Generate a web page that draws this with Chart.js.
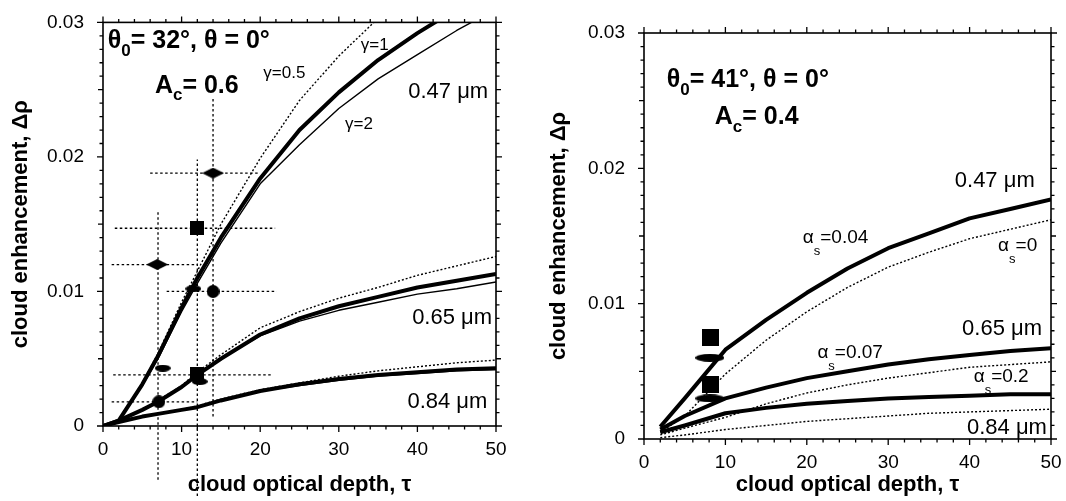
<!DOCTYPE html>
<html>
<head>
<meta charset="utf-8">
<script src="https://cdn.jsdelivr.net/npm/chart.js@4.4.1/dist/chart.umd.min.js"></script>
<style>
  body { margin: 0; background: #fff; width: 1066px; height: 501px; overflow: hidden; position: relative; }
  #cl { position: absolute; left: 0; top: 0; }
  #cr { position: absolute; left: 530px; top: 0; }
</style>
</head>
<body>
<canvas id="cl" width="530" height="501"></canvas>
<canvas id="cr" width="536" height="501"></canvas>
<script>
// ---- left panel (theta0 = 32, Ac = 0.6) ----
const tauL = [0, 2, 5, 7, 10, 12, 15, 20, 25, 30, 35, 40, 45, 50];
const l47g1 = [0, 0.0004, 0.0031, 0.0052, 0.0088, 0.011, 0.014, 0.0184, 0.022, 0.0248, 0.0272, 0.0292, 0.031, 0.0325];
const l47g2 = [0, 0.0004, 0.003, 0.005, 0.0085, 0.0106, 0.0136, 0.018, 0.0209, 0.0236, 0.0258, 0.0276, 0.0294, 0.031];
const l47g05 = [0, 0.0004, 0.0032, 0.0054, 0.0092, 0.0115, 0.015, 0.0199, 0.0242, 0.0275, 0.0303, 0.033, 0.035, 0.037];
const l65g1 = [0, 0.0004, 0.0012, 0.0018, 0.0029, 0.0038, 0.005, 0.0068, 0.008, 0.0089, 0.0096, 0.0103, 0.0108, 0.0113];
const l65g2 = [0, 0.0004, 0.0012, 0.0018, 0.0029, 0.0038, 0.005, 0.0067, 0.0078, 0.0086, 0.0092, 0.0098, 0.0102, 0.0107];
const l65g05 = [0, 0.0004, 0.0012, 0.0019, 0.003, 0.004, 0.0053, 0.0073, 0.0085, 0.0095, 0.0103, 0.0112, 0.0119, 0.0126];
const l84g1 = [0, 0.0003, 0.0007, 0.0009, 0.0012, 0.0014, 0.0019, 0.0026, 0.0031, 0.0035, 0.0038, 0.004, 0.0042, 0.0043];
const l84g2 = [0, 0.0003, 0.0007, 0.0009, 0.0012, 0.0014, 0.0019, 0.0026, 0.003, 0.0034, 0.0037, 0.0039, 0.0041, 0.0042];
const l84g05 = [0, 0.0003, 0.0007, 0.0009, 0.0012, 0.0015, 0.002, 0.0027, 0.0032, 0.0037, 0.0041, 0.0044, 0.0047, 0.0049];

// observations, left panel
const diamondTau = [14.0, 6.9];
const diamondRho = [0.0188, 0.0120];
const squareTauL = [12.0, 12.0];
const squareRhoL = [0.0147, 0.0039];
const circleTau = [14.0, 7.1];
const circleRho = [0.0100, 0.0018];
const ellipseTauL = [11.5, 7.6, 12.3];
const ellipseRhoL = [0.0102, 0.0043, 0.0033];
// horizontal error bars
const hbarRho = [0.0188, 0.0147, 0.0120, 0.0100, 0.0038, 0.0018];
const hbarLo = [6.0, 1.5, 1.1, 8.1, 1.3, 1.1];
const hbarHi = [20.0, 21.9, 12.0, 22.1, 21.6, 12.0];
// vertical error bars
const vbarTau = [7.0, 12.0, 14.0];
const vbarLo = [-0.004, -0.0052, 0.0007];
const vbarHi = [0.016, 0.0198, 0.0245];

// ---- right panel (theta0 = 41, Ac = 0.4) ----
const tauR = [2, 5, 10, 15, 20, 25, 30, 35, 40, 45, 50];
const r47a004 = [0.0009, 0.003, 0.0066, 0.0088, 0.0108, 0.0126, 0.0141, 0.0152, 0.0163, 0.017, 0.0177];
const r47a0 = [0.0005, 0.0017, 0.0048, 0.0073, 0.0094, 0.0112, 0.0127, 0.0138, 0.0148, 0.0155, 0.0162];
const r65a007 = [0.0007, 0.0017, 0.003, 0.0038, 0.0045, 0.005, 0.0055, 0.0059, 0.0062, 0.0065, 0.0067];
const r65a02 = [0.0003, 0.0008, 0.0016, 0.0026, 0.0034, 0.004, 0.0045, 0.0049, 0.0053, 0.0055, 0.0057];
const r84thick = [0.0005, 0.001, 0.0019, 0.0023, 0.0026, 0.0028, 0.003, 0.0031, 0.0032, 0.0033, 0.0033];
const r84dot = [0.0001, 0.0003, 0.0007, 0.001, 0.0013, 0.0015, 0.0017, 0.0019, 0.002, 0.0021, 0.0022];
const squareTauR = [8.2, 8.2];
const squareRhoR = [0.0075, 0.0040];
const ellipseTauR = [8.1, 8.1];
const ellipseRhoR = [0.0060, 0.0030];

const xTicks = [0, 10, 20, 30, 40, 50];
const yTicks = [0, 0.01, 0.02, 0.03];

Chart.defaults.font.family = "'Liberation Sans', Arial, sans-serif";
Chart.defaults.color = '#000';

function pts(xs, ys) {
  return xs.map((x, i) => ({ x: x, y: ys[i] }));
}

function shapeImg(kind, w, h) {
  const c = document.createElement('canvas');
  c.width = w; c.height = h;
  const g = c.getContext('2d');
  g.fillStyle = '#000';
  g.beginPath();
  if (kind === 'diamond') {
    g.moveTo(0, h / 2); g.lineTo(w / 2, 0); g.lineTo(w, h / 2); g.lineTo(w / 2, h); g.closePath();
  } else if (kind === 'ellipse') {
    g.ellipse(w / 2, h / 2, w / 2, h / 2, 0, 0, Math.PI * 2);
  } else if (kind === 'circle') {
    g.arc(w / 2, h / 2, w / 2, 0, Math.PI * 2);
  } else {
    g.rect(0, 0, w, h);
  }
  g.fill();
  return c;
}

function curve(xs, ys, kind) {
  const ds = {
    data: pts(xs, ys), showLine: true, pointRadius: 0, borderColor: '#000',
    tension: 0, borderJoinStyle: 'round', order: 5
  };
  if (kind === 'thick') ds.borderWidth = 4;
  if (kind === 'thin') ds.borderWidth = 1.4;
  if (kind === 'dot') { ds.borderWidth = 1.4; ds.borderDash = [2, 2]; }
  return ds;
}

function markers(xs, ys, img) {
  return { data: pts(xs, ys), showLine: false, pointStyle: img, pointRadius: 5, order: 0 };
}

function bar(xs, ys) {
  return {
    data: pts(xs, ys), showLine: true, pointRadius: 0, borderColor: '#000',
    borderWidth: 1.3, borderDash: [2.5, 2.5], clip: false, order: 3
  };
}

const frame = {
  id: 'frame',
  afterDatasetsDraw(chart) {
    const { ctx, chartArea: a, scales: { x, y } } = chart;
    ctx.save();
    ctx.strokeStyle = '#000';
    ctx.lineWidth = 1.6;
    ctx.strokeRect(a.left, a.top, a.right - a.left, a.bottom - a.top);
    ctx.lineWidth = 1.3;
    ctx.beginPath();
    for (let v = 0; v <= 50; v += 2) {
      const px = x.getPixelForValue(v);
      const len = v % 10 === 0 ? 6 : 3.5;
      ctx.moveTo(px, a.bottom); ctx.lineTo(px, a.bottom + len);
      ctx.moveTo(px, a.top); ctx.lineTo(px, a.top - len);
    }
    for (let i = 0; i <= 30; i++) {
      const py = y.getPixelForValue(i / 1000);
      const len = i % 10 === 0 ? 6 : (i % 5 === 0 ? 5 : 3.5);
      ctx.moveTo(a.left, py); ctx.lineTo(a.left - len, py);
      ctx.moveTo(a.right, py); ctx.lineTo(a.right + len, py);
    }
    ctx.stroke();
    ctx.restore();
  }
};

const notes = {
  id: 'notes',
  afterDraw(chart, args, opts) {
    const { ctx, scales: { x, y } } = chart;
    ctx.save();
    ctx.fillStyle = '#000';
    ctx.textBaseline = 'middle';
    ctx.textAlign = 'left';
    (opts.items || []).forEach(it => {
      const fam = "'Liberation Sans', Arial, sans-serif";
      const w = it.bold ? 'bold ' : '';
      const mainF = w + it.size + 'px ' + fam;
      const subF = w + Math.round(it.size * 0.66) + 'px ' + fam;
      let total = 0;
      it.parts.forEach(p => { ctx.font = p[1] ? subF : mainF; total += ctx.measureText(p[0]).width; });
      let px = x.getPixelForValue(it.x);
      const py = y.getPixelForValue(it.y);
      if (it.align === 'right') px -= total;
      it.parts.forEach(p => {
        ctx.font = p[1] ? subF : mainF;
        ctx.fillText(p[0], px, p[1] ? py + it.drop : py);
        px += ctx.measureText(p[0]).width;
      });
    });
    ctx.restore();
  }
};

function makeOptions(cfg) {
  return {
    responsive: false,
    animation: false,
    layout: { padding: cfg.padding },
    plugins: { legend: { display: false }, tooltip: { enabled: false }, notes: { items: cfg.notes } },
    scales: {
      x: {
        type: 'linear', min: 0, max: 50,
        afterBuildTicks: s => { s.ticks = xTicks.map(v => ({ value: v })); },
        ticks: { font: { size: 19 }, color: '#000', padding: 4, maxRotation: 0 },
        grid: { display: false }, border: { display: false },
        title: { display: true, text: 'cloud optical depth, τ', font: { size: 22, weight: 'bold' }, padding: { top: 0, bottom: 3 } },
        afterFit: s => { s.height = cfg.xh; }
      },
      y: {
        type: 'linear', min: 0, max: 0.03,
        afterBuildTicks: s => { s.ticks = yTicks.map(v => ({ value: v })); },
        ticks: { font: { size: 19 }, color: '#000', padding: 11, callback: v => v === 0 ? '0' : v.toFixed(2) },
        grid: { display: false }, border: { display: false },
        title: { display: true, text: 'cloud enhancement, Δρ', font: { size: 22, weight: 'bold' }, padding: { top: cfg.ytp, bottom: 0 } },
        afterFit: s => { s.width = cfg.yw; }
      }
    }
  };
}

const diamondImg = shapeImg('diamond', 22, 11);
const squareImgL = shapeImg('square', 14, 14);
const circleImg = shapeImg('circle', 13, 13);
const ellipseImgL = shapeImg('ellipse', 16, 7);
const squareImgR = shapeImg('square', 17, 17);
const ellipseImgR = shapeImg('ellipse', 29, 8);

const leftSets = [
  markers(diamondTau, diamondRho, diamondImg),
  markers(squareTauL, squareRhoL, squareImgL),
  markers(circleTau, circleRho, circleImg),
  markers(ellipseTauL, ellipseRhoL, ellipseImgL)
];
hbarRho.forEach((r, i) => leftSets.push(bar([hbarLo[i], hbarHi[i]], [r, r])));
vbarTau.forEach((t, i) => leftSets.push(bar([t, t], [vbarLo[i], vbarHi[i]])));
leftSets.push(
  curve(tauL, l47g1, 'thick'), curve(tauL, l47g2, 'thin'), curve(tauL, l47g05, 'dot'),
  curve(tauL, l65g1, 'thick'), curve(tauL, l65g2, 'thin'), curve(tauL, l65g05, 'dot'),
  curve(tauL, l84g1, 'thick'), curve(tauL, l84g2, 'thin'), curve(tauL, l84g05, 'dot')
);

new Chart(document.getElementById('cl'), {
  type: 'scatter',
  data: { datasets: leftSets },
  options: makeOptions({
    padding: { top: 20, right: 34, left: 0, bottom: 0 }, xh: 75, yw: 103, ytp: 8,
    notes: [
      { x: 0.6, y: 0.0286, size: 25, bold: true, drop: 10, parts: [['θ', 0], ['0', 1], ['= 32°, θ = 0°', 0]] },
      { x: 6.6, y: 0.0253, size: 25, bold: true, drop: 10, parts: [['A', 0], ['c', 1], ['= 0.6', 0]] },
      { x: 20.4, y: 0.0262, size: 17, parts: [['γ=0.5', 0]] },
      { x: 32.8, y: 0.0283, size: 17, parts: [['γ=1', 0]] },
      { x: 30.8, y: 0.0224, size: 17, parts: [['γ=2', 0]] },
      { x: 49, y: 0.0248, size: 22, align: 'right', parts: [['0.47 μm', 0]] },
      { x: 49.5, y: 0.0080, size: 22, align: 'right', parts: [['0.65 μm', 0]] },
      { x: 48.9, y: 0.0018, size: 22, align: 'right', parts: [['0.84 μm', 0]] }
    ]
  }),
  plugins: [frame, notes]
});

const rightSets = [
  markers(squareTauR, squareRhoR, squareImgR),
  markers(ellipseTauR, ellipseRhoR, ellipseImgR),
  curve(tauR, r47a004, 'thick'), curve(tauR, r47a0, 'dot'),
  curve(tauR, r65a007, 'thick'), curve(tauR, r65a02, 'dot'),
  curve(tauR, r84thick, 'thick'), curve(tauR, r84dot, 'dot')
];

new Chart(document.getElementById('cr'), {
  type: 'scatter',
  data: { datasets: rightSets },
  options: makeOptions({
    padding: { top: 33, right: 15, left: 0, bottom: 0 }, xh: 62, yw: 114, ytp: 16,
    notes: [
      { x: 2.8, y: 0.0265, size: 25, bold: true, drop: 10, parts: [['θ', 0], ['0', 1], ['= 41°, θ = 0°', 0]] },
      { x: 8.7, y: 0.0238, size: 25, bold: true, drop: 10, parts: [['A', 0], ['c', 1], ['= 0.4', 0]] },
      { x: 48, y: 0.0191, size: 22, align: 'right', parts: [['0.47 μm', 0]] },
      { x: 19.5, y: 0.0149, size: 19, drop: 14, parts: [['α', 0], ['s', 1], ['=0.04', 0]] },
      { x: 43.5, y: 0.0143, size: 19, drop: 14, parts: [['α', 0], ['s', 1], ['=0', 0]] },
      { x: 48.9, y: 0.0081, size: 22, align: 'right', parts: [['0.65 μm', 0]] },
      { x: 21.3, y: 0.0064, size: 19, drop: 14, parts: [['α', 0], ['s', 1], ['=0.07', 0]] },
      { x: 40.5, y: 0.0046, size: 19, drop: 14, parts: [['α', 0], ['s', 1], ['=0.2', 0]] },
      { x: 49.5, y: 0.0008, size: 22, align: 'right', parts: [['0.84 μm', 0]] }
    ]
  }),
  plugins: [frame, notes]
});
</script>
</body>
</html>
